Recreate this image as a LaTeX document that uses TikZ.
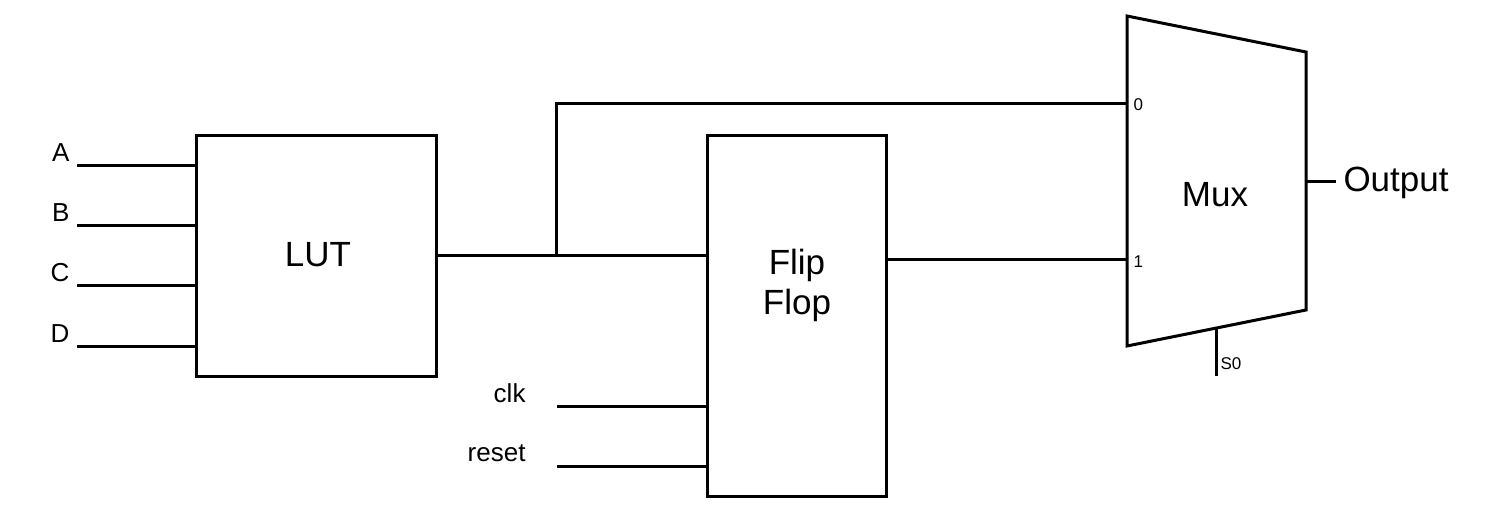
\documentclass[tikz,border=0pt]{standalone}
\usepackage{fontspec}
\setmainfont{Liberation Sans}
\begin{document}
\begin{tikzpicture}[x=1pt,y=-1pt,line width=3pt,
  blk/.style={draw,line width=3pt,inner sep=0pt,fill=white},
  big/.style={font=\fontsize{35}{40}\selectfont,inner sep=0pt},
  lbl/.style={font=\fontsize{26}{30}\selectfont,inner sep=0pt},
  tiny/.style={font=\fontsize{17}{19}\selectfont,inner sep=0pt},
  wire/.style={line width=3pt}]
\useasboundingbox (0,0) rectangle (1500,513);
% LUT
\node[blk,minimum width=240pt,minimum height=240pt] (lut) at (316,256) {};
\node[big,anchor=base] (luttxt) at (318,267) {LUT};
% Flip flop
\node[blk,minimum width=179pt,minimum height=360pt] (ff) at (796.5,316) {};
\node[big,anchor=base,align=center] (fftxt1) at (797,275) {Flip};
\node[big,anchor=base,align=center] (fftxt2) at (797,315) {Flop};
% Mux
\draw[line width=3pt,line join=miter] (1127,16) -- (1306,52) -- (1306,310) -- (1127,346) -- cycle;
\coordinate (m0) at (1127,104);
\coordinate (m1) at (1127,260);
\coordinate (mout) at (1306,182);
\coordinate (ms) at (1216,328);
\node[big,anchor=base] (muxtxt) at (1215,207) {Mux};
\node[tiny,anchor=west] (l0) at (1132,105) {0};
\node[tiny,anchor=west] (l1) at (1132,262) {1};
% LUT inputs
\foreach \n/\y in {A/166,B/226,C/286,D/346}{
  \coordinate (in\n) at (77,\y);
  \node[lbl,anchor=base east] (t\n) at (71,\y-4) {\n};
  \draw[wire] (in\n) -- (lut.west |- in\n);
}
% clk, reset
\coordinate (clk) at (557,406);
\coordinate (rst) at (557,466);
\node[lbl,anchor=base east] (tclk) at (527,402) {clk};
\node[lbl,anchor=base east] (trst) at (527,461) {reset};
\draw[wire] (clk) -- (ff.west |- clk);
\draw[wire] (rst) -- (ff.west |- rst);
% LUT -> FF, and bypass to mux
\coordinate (lo) at (lut.east |- 0,256);
\coordinate (j) at (556,256);
\draw[wire] (lo) -- (ff.west |- lo);
\draw[wire,line join=miter] (j) -- (j |- m0) -- (m0);
% FF -> mux
\draw[wire] (ff.east |- m1) -- (m1);
% Mux output
\coordinate (oend) at (1336,182);
\draw[wire] (mout) -- (oend);
\node[big,anchor=base west] (tout) at (1342,192) {Output};
% select
\coordinate (send) at (1216,376);
\draw[wire] (ms) -- (send);
\node[tiny,anchor=base west] (ts0) at (1219,369) {S0};
\end{tikzpicture}
\end{document}
